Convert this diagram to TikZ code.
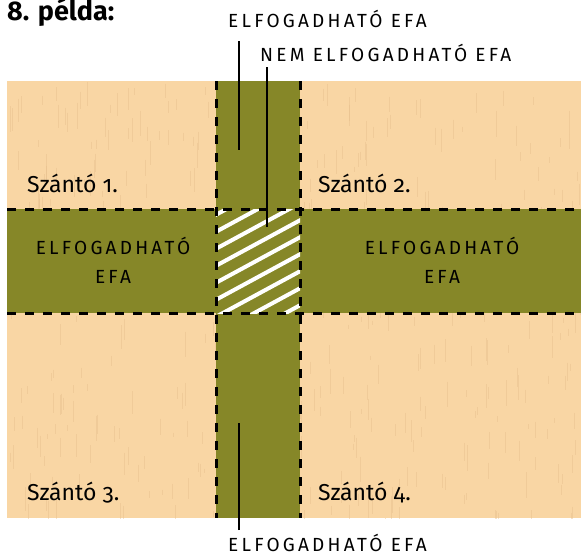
\documentclass[tikz,border=0pt]{standalone}
\usepackage{fontspec}
\setmainfont{Fira Sans}
\newfontfamily\capsfont[LetterSpace=17]{Fira Sans}
\newfontfamily\numfont[Numbers=OldStyle]{Fira Sans}
\definecolor{szanto}{HTML}{F9D6A4}
\definecolor{grain}{HTML}{E6BF8C}
\definecolor{efa}{HTML}{868728}
\begin{document}
\begin{tikzpicture}[x=1pt,y=-1pt]
\tikzset{efalabel/.style={font=\capsfont\fontsize{19}{20}\selectfont, inner sep=0pt, align=center},
  szlabel/.style={font=\numfont\fontsize{23}{26}\selectfont, inner sep=0pt, anchor=base west},
  border/.style={line width=3pt, dash pattern=on 9pt off 9pt},
  leader/.style={line width=2.3pt},
  hatchline/.style={white, line width=4pt},
  grainline/.style={grain, line width=0.9pt, opacity=0.45}}
\useasboundingbox (0,0) rectangle (581,555);
% parcels and strips
\fill[szanto] (7,81) rectangle (581,518);
\pgfmathsetseed{42}
\begin{scope}
\clip (7,81) rectangle (581,518);
\foreach \i in {1,...,450} {
  \pgfmathsetmacro\gx{7+574*rnd}
  \pgfmathsetmacro\gy{81+437*rnd}
  \pgfmathsetmacro\gl{4+22*rnd}
  \draw[grainline] (\gx,\gy) -- ++(0,\gl);
}
\end{scope}
\fill[efa] (216,81) rectangle (300,518);
\fill[efa] (7,209) rectangle (581,313);
\begin{scope}
\clip (216,209) rectangle (300,313);
\foreach \k in {-4,...,9}
  \draw[hatchline] (210,218+17*\k) -- ++(96,-52);
\end{scope}
\draw[border] (216,81) -- (216,518);
\draw[border] (300,81) -- (300,518);
\draw[border] (7,209) -- (581,209);
\draw[border] (7,313) -- (581,313);
% labels
\node[font=\bfseries\fontsize{27}{30}\selectfont, inner sep=0pt, anchor=base west] (title) at (7,20) {8. példa:};
\node[szlabel] (sz1) at (27,192) {Szántó 1.};
\node[szlabel] (sz2) at (318,192) {Szántó 2.};
\node[szlabel] (sz3) at (27,500) {Szántó 3.};
\node[szlabel] (sz4) at (318,500) {Szántó 4.};
\node[efalabel, anchor=base west] (lblTop) at (228,27) {ELFOGADHATÓ EFA};
\node[efalabel, anchor=base west] (lblNem) at (260,61) {NEM ELFOGADHATÓ EFA};
\node[efalabel, anchor=base west] (lblBot) at (228,551) {ELFOGADHATÓ EFA};
\node[efalabel, anchor=base] (efaLeft) at (113,283) {ELFOGADHATÓ\\[9pt]EFA};
\node[efalabel, anchor=base] (efaRight) at (442,283) {ELFOGADHATÓ\\[9pt]EFA};
% leader lines
\coordinate (tipTop) at (239,150);
\coordinate (tipNem) at (267,227);
\coordinate (tipBot) at (239,423);
\draw[leader] (tipTop |- 0,41) -- (tipTop);
\draw[leader] (tipNem |- 0,67) -- (tipNem);
\draw[leader] (tipBot |- 0,530) -- (tipBot);
\end{tikzpicture}
\end{document}
